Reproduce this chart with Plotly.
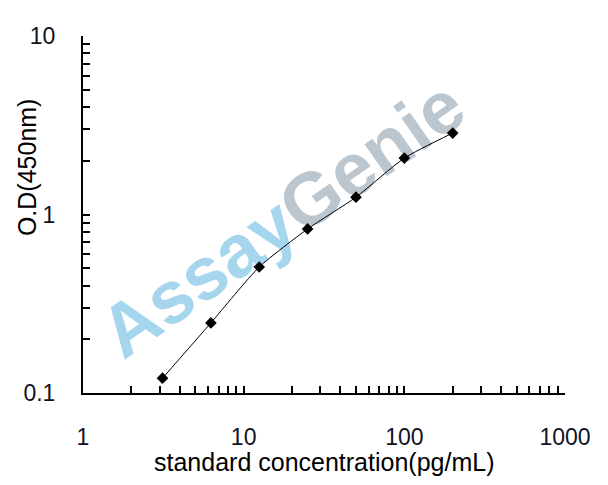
import plotly.graph_objects as go

# standard curve, log-log
conc = [3.125, 6.25, 12.5, 25, 50, 100, 200]
od = [0.121, 0.247, 0.508, 0.83, 1.25, 2.07, 2.86]

x_ticks = [1, 10, 100, 1000]
x_tick_text = ["1", "10", "100", "1000"]
y_ticks = [0.1, 1, 10]
y_tick_text = ["0.1", "1", "10"]

FONT = "Liberation Sans, Arial, sans-serif"

fig = go.Figure()

fig.add_trace(
    go.Scatter(
        x=conc,
        y=od,
        mode="lines+markers",
        line=dict(color="black", width=1, shape="spline", smoothing=0.6),
        marker=dict(symbol="diamond", size=9, color="black"),
        showlegend=False,
        hoverinfo="skip",
    )
)

# watermark, kept under the curve
fig.add_shape(
    type="rect",
    xref="paper", yref="paper",
    x0=0.005, x1=0.805, y0=0.08, y1=0.93,
    line=dict(width=0),
    fillcolor="rgba(0,0,0,0)",
    layer="below",
    label=dict(
        text="<b><span style='color:#a6d6ee'>Assay</span>"
             "<span style='color:#bcc6ce'>Genie</span></b>",
        textangle=-35,
        textposition="middle center",
        font=dict(family=FONT, size=74),
    ),
)

axis_common = dict(
    type="log",
    automargin=False,
    showline=True,
    linecolor="black",
    linewidth=2,
    ticks="inside",
    ticklen=7,
    tickwidth=1.5,
    tickcolor="black",
    showgrid=False,
    zeroline=False,
    mirror=False,
    tickfont=dict(family=FONT, size=23, color="#111122"),
)

fig.update_xaxes(
    **axis_common,
    range=[0, 3],
    tickvals=x_ticks,
    ticktext=x_tick_text,
    ticklabelstandoff=22,
    minor=dict(ticks="inside", ticklen=7, tickwidth=1.5, tickcolor="black",
               dtick="D1", showgrid=False),
)
fig.update_yaxes(
    **axis_common,
    range=[-1, 1],
    tickvals=y_ticks,
    ticktext=y_tick_text,
    ticklabelstandoff=21,
    minor=dict(ticks="inside", ticklen=7, tickwidth=1.5, tickcolor="black",
               dtick="D1", showgrid=False),
)

# page body adds an 8px offset, so margins are shifted to compensate
fig.update_layout(
    width=608,
    height=485,
    margin=dict(l=75, r=51, t=28, b=100),
    plot_bgcolor="white",
    paper_bgcolor="white",
    annotations=[
        dict(text="O.D(450nm)", xref="paper", yref="paper",
             x=-0.116, y=0.633, xanchor="center", yanchor="middle",
             textangle=-90, showarrow=False,
             font=dict(family=FONT, size=25, color="black")),
        dict(text="standard concentration(pg/mL)", xref="paper", yref="paper",
             x=0.5, y=-0.193, xanchor="center", yanchor="middle",
             showarrow=False,
             font=dict(family=FONT, size=25, color="black")),
    ],
)

fig.write_html("out.html")
